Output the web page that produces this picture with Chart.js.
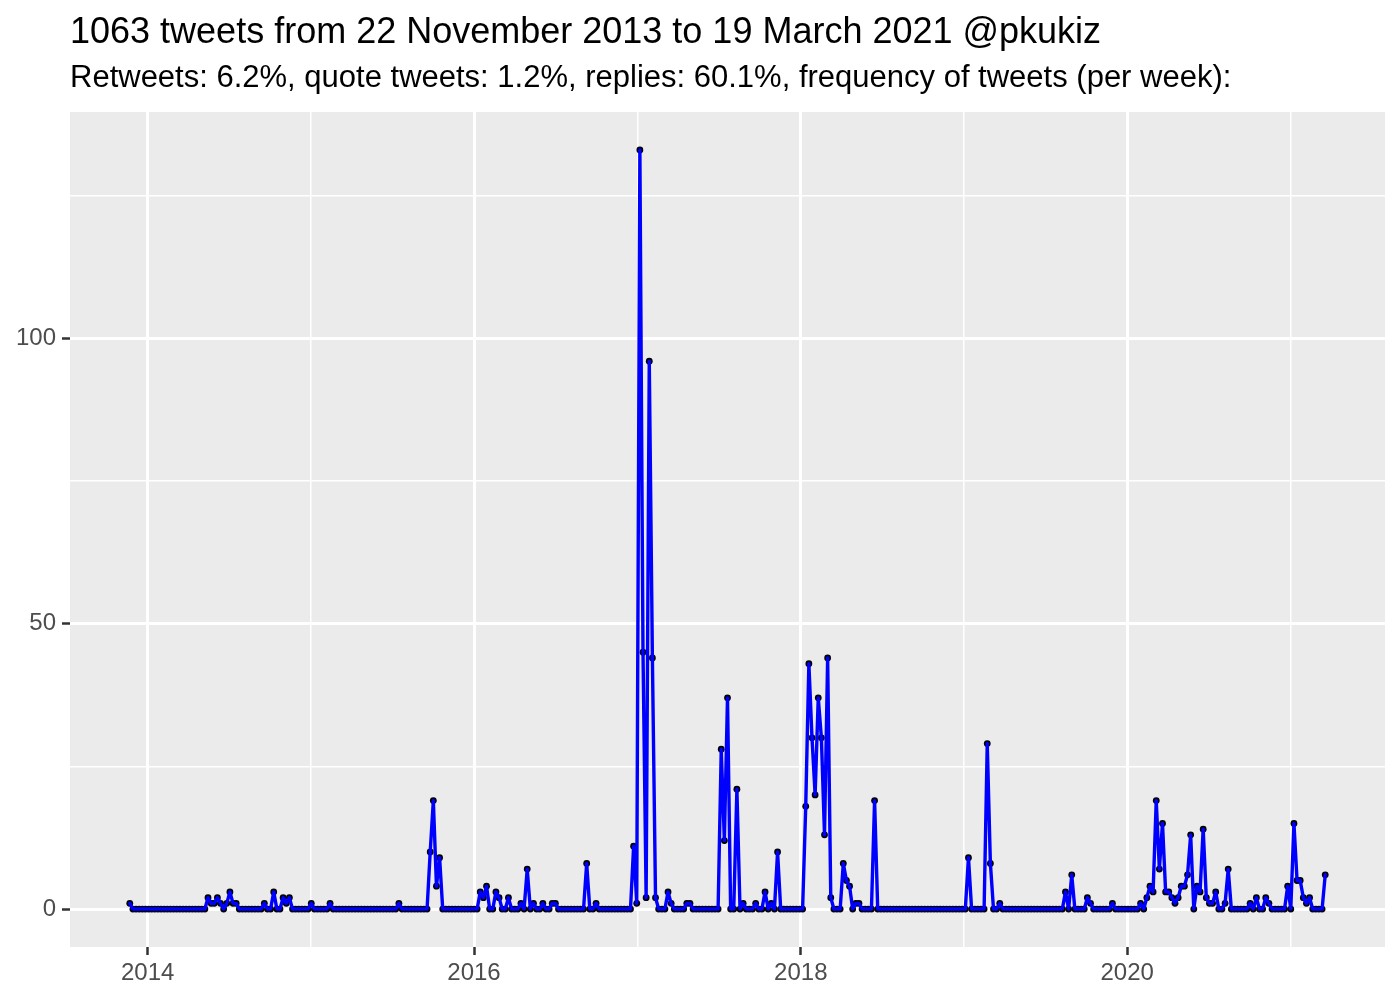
<!DOCTYPE html>
<html>
<head>
<meta charset="utf-8">
<script src="https://cdn.jsdelivr.net/npm/chart.js@4.4.1/dist/chart.umd.min.js"></script>
<style>
  html, body { margin: 0; padding: 0; background: #ffffff; }
  #wrap { width: 1400px; height: 1000px; }
</style>
</head>
<body>
<div id="wrap"><canvas id="c" width="1400" height="1000"></canvas></div>
<script>
// ---- data (weekly tweet counts, weeks starting 22 Nov 2013) ----
const titleText = "1063 tweets from 22 November 2013 to 19 March 2021 @pkukiz";
const subtitleText = "Retweets: 6.2%, quote tweets: 1.2%, replies: 60.1%, frequency of tweets (per week):";
const firstWeek = "2013-11-22";
const tweetsPerWeek = [
  1,0,0,0,0,0,0,0,0,0, 0,0,0,0,0,0,0,0,0,0,
  0,0,0,0,0,2,1,1,2,1, 0,1,3,1,1,0,0,0,0,0,
  0,0,0,1,0,0,3,0,0,2, 1,2,0,0,0,0,0,0,1,0,
  0,0,0,0,1,0,0,0,0,0, 0,0,0,0,0,0,0,0,0,0,
  0,0,0,0,0,0,1,0,0,0, 0,0,0,0,0,0,10,19,4,9,
  0,0,0,0,0,0,0,0,0,0, 0,0,3,2,4,0,0,3,2,0,
  0,2,0,0,0,1,0,7,0,1, 0,0,1,0,0,1,1,0,0,0,
  0,0,0,0,0,0,8,0,0,1, 0,0,0,0,0,0,0,0,0,0,
  0,11,1,133,45,2,96,44,2,0, 0,0,3,1,0,0,0,0,1,1,
  0,0,0,0,0,0,0,0,0,28, 12,37,0,0,21,0,1,0,0,0,
  1,0,0,3,0,1,0,10,0,0, 0,0,0,0,0,0,18,43,30,20,
  37,30,13,44,2,0,0,0,8,5, 4,0,1,1,0,0,0,0,19,0,
  0,0,0,0,0,0,0,0,0,0, 0,0,0,0,0,0,0,0,0,0,
  0,0,0,0,0,0,0,0,9,0, 0,0,0,0,29,8,0,0,1,0,
  0,0,0,0,0,0,0,0,0,0, 0,0,0,0,0,0,0,0,0,3,
  0,6,0,0,0,0,2,1,0,0, 0,0,0,0,1,0,0,0,0,0,
  0,0,0,1,0,2,4,3,19,7, 15,3,3,2,1,2,4,4,6,13,
  0,4,3,14,2,1,1,3,0,0, 1,7,0,0,0,0,0,0,1,0,
  2,0,0,2,1,0,0,0,0,0, 4,0,15,5,5,2,1,2,0,0,
  0,0,6
];
const xMajorYears = [2014, 2016, 2018, 2020];
const xMinorYears = [2015, 2017, 2019, 2021];
const yMajorTicks = [0, 50, 100];
const yMinorTicks = [25, 75, 125];

// ---- helpers ----
const DAY = 86400000;
const WEEK = 7 * DAY;
const startMs = Date.parse(firstWeek + "T00:00:00Z");
const points = tweetsPerWeek.map((v, i) => ({ x: startMs + i * WEEK, y: v }));
const xLo = points[0].x, xHi = points[points.length - 1].x;
const xPad = (xHi - xLo) * 0.05;
const yMax = Math.max(...tweetsPerWeek);
const yPad = yMax * 0.05;
const yearMs = y => Date.UTC(y, 0, 1);
const majorXSet = new Set(xMajorYears.map(yearMs));
const majorYSet = new Set(yMajorTicks);

const FONT = "'Liberation Sans', Arial, Helvetica, sans-serif";

const panelBg = {
  id: 'panelBg',
  beforeDraw(chart) {
    const { ctx, chartArea: a } = chart;
    ctx.save();
    ctx.fillStyle = '#EBEBEB';
    ctx.fillRect(a.left, a.top, a.right - a.left, a.bottom - a.top);
    ctx.restore();
  }
};

new Chart(document.getElementById('c'), {
  type: 'line',
  data: {
    datasets: [
      {
        label: 'line',
        data: points,
        borderColor: '#0000FF',
        borderWidth: 3.4,
        borderJoinStyle: 'round',
        borderCapStyle: 'round',
        pointRadius: 0,
        tension: 0,
        order: 1
      },
      {
        label: 'points',
        data: points,
        showLine: false,
        pointRadius: 3.4,
        pointBackgroundColor: '#000000',
        pointBorderWidth: 0,
        order: 2
      }
    ]
  },
  options: {
    responsive: false,
    animation: false,
    devicePixelRatio: 1,
    layout: { padding: { top: 11, right: 15, bottom: 0, left: 0 } },
    plugins: {
      legend: { display: false },
      tooltip: { enabled: false },
      title: {
        display: true,
        text: titleText,
        align: 'start',
        fullSize: false,
        color: '#000000',
        font: { family: FONT, size: 36, weight: 'normal', lineHeight: 1.2 },
        padding: { top: 0, bottom: 4 }
      },
      subtitle: {
        display: true,
        text: subtitleText,
        align: 'start',
        fullSize: false,
        color: '#000000',
        font: { family: FONT, size: 31, weight: 'normal', lineHeight: 1.2 },
        padding: { top: 2, bottom: 14.6 }
      }
    },
    scales: {
      x: {
        type: 'linear',
        min: xLo - xPad,
        max: xHi + xPad,
        afterBuildTicks(scale) {
          const vals = xMajorYears.concat(xMinorYears).map(yearMs).sort((a, b) => a - b);
          scale.ticks = vals.map(v => ({ value: v }));
        },
        afterFit(scale) { scale.height = 53; },
        border: { display: false },
        grid: {
          color: '#FFFFFF',
          lineWidth: ctx => (ctx.tick && majorXSet.has(ctx.tick.value)) ? 3 : 1.5,
          tickColor: ctx => (ctx.tick && majorXSet.has(ctx.tick.value)) ? '#333333' : 'rgba(0,0,0,0)',
          tickLength: 8,
          tickWidth: 2.5,
          drawTicks: true
        },
        ticks: {
          autoSkip: false,
          maxRotation: 0,
          padding: 4,
          color: '#4D4D4D',
          font: { family: FONT, size: 24 },
          callback: v => majorXSet.has(v) ? String(new Date(v).getUTCFullYear()) : ''
        }
      },
      y: {
        type: 'linear',
        min: -yPad,
        max: yMax + yPad,
        afterBuildTicks(scale) {
          scale.ticks = yMajorTicks.concat(yMinorTicks).sort((a, b) => a - b).map(v => ({ value: v }));
        },
        afterFit(scale) { scale.width = 70; },
        border: { display: false },
        grid: {
          color: '#FFFFFF',
          lineWidth: ctx => (ctx.tick && majorYSet.has(ctx.tick.value)) ? 3 : 1.5,
          tickColor: ctx => (ctx.tick && majorYSet.has(ctx.tick.value)) ? '#333333' : 'rgba(0,0,0,0)',
          tickLength: 8,
          tickWidth: 2.5,
          drawTicks: true
        },
        ticks: {
          autoSkip: false,
          padding: 6,
          color: '#4D4D4D',
          font: { family: FONT, size: 24 },
          callback: v => majorYSet.has(v) ? String(v) : ''
        }
      }
    }
  },
  plugins: [panelBg]
});
</script>
</body>
</html>
